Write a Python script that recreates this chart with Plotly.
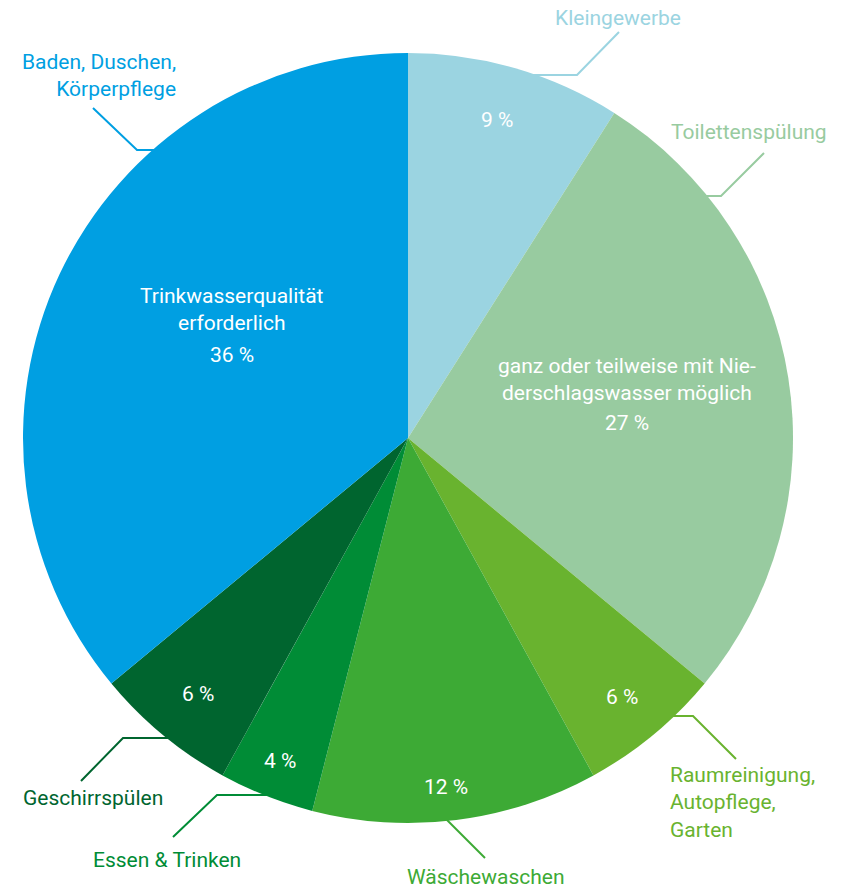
import plotly.graph_objects as go

W, H = 848, 889
CX, CY, R = 408, 438, 385

categories = ["Kleingewerbe", "Toilettenspülung", "Raumreinigung, Autopflege, Garten",
              "Wäschewaschen", "Essen & Trinken", "Geschirrspülen", "Baden, Duschen, Körperpflege"]
values = [9, 27, 6, 12, 4, 6, 36]
colors = ["#9bd4e1", "#98cba0", "#69b32f", "#3daa35", "#008c36", "#00652f", "#009fe2"]

# inner labels
inner_texts = ["9 %", "ganz oder teilweise mit Nie-<br>derschlagswasser möglich", "6 %", "12 %",
               "4 %", "6 %", "Trinkwasserqualität<br>erforderlich"]
inner_pos = [(497, 120), (627, 379), (622, 697), (446, 787), (280, 761), (198, 694), (232, 309)]
extra_pct = [(1, "27 %", (627, 423)), (6, "36 %", (232, 355))]

# outer labels
outer_texts = ["Kleingewerbe", "Toilettenspülung", "Raumreinigung,<br>Autopflege,<br>Garten",
               "Wäschewaschen", "Essen & Trinken", "Geschirrspülen", "Baden, Duschen,<br>Körperpflege"]
outer_pos = [(618, 18, "center"), (749, 132, "center"), (668, 802, "left"), (486, 877, "center"),
             (167, 860, "center"), (93, 798, "center"), (178, 76, "right")]
leaders = [
    [(533, 75), (577, 75), (619, 32)],
    [(700, 196), (721, 196), (764, 153)],
    [(665, 716), (693, 716), (736, 759)],
    [(445, 818), (485, 858)],
    [(272, 795), (217, 795), (173, 837)],
    [(170, 738), (123, 738), (81, 781)],
    [(93, 108), (137, 150), (158, 150)],
]

FS = 21

def px(x):
    return x / W

def py(y):
    return 1 - y / H

fig = go.Figure(go.Pie(
    labels=categories, values=values, sort=False, direction="clockwise", rotation=0,
    marker=dict(colors=colors, line=dict(width=0)),
    textinfo="none", hoverinfo="label+percent", showlegend=False,
    domain=dict(x=[px(CX - R), px(CX + R)], y=[py(CY + R), py(CY - R)]),
))

annotations = []
font = "Roboto, sans-serif"
for t, (x, y) in zip(inner_texts, inner_pos):
    annotations.append(dict(x=px(x), y=py(y), xref="paper", yref="paper", text=t, showarrow=False,
                            xanchor="center", yanchor="middle",
                            font=dict(family=font, size=FS, color="white"), align="center"))
for i, t, (x, y) in extra_pct:
    annotations.append(dict(x=px(x), y=py(y), xref="paper", yref="paper", text=t, showarrow=False,
                            xanchor="center", yanchor="middle",
                            font=dict(family=font, size=FS, color="white"), align="center"))
for t, (x, y, al), c in zip(outer_texts, outer_pos, colors):
    annotations.append(dict(x=px(x), y=py(y), xref="paper", yref="paper", text=t, showarrow=False,
                            xanchor=al, yanchor="middle",
                            font=dict(family=font, size=FS, color=c), align=al))

shapes = []
for pts, c in zip(leaders, colors):
    path = "M " + " L ".join(f"{px(x)},{py(y)}" for x, y in pts)
    shapes.append(dict(type="path", path=path, xref="paper", yref="paper",
                       line=dict(color=c, width=2), layer="below"))

fig.update_layout(width=W, height=H, margin=dict(l=0, r=0, t=0, b=0),
                  paper_bgcolor="white", plot_bgcolor="white",
                  annotations=annotations, shapes=shapes)
fig.write_html("out.html")
